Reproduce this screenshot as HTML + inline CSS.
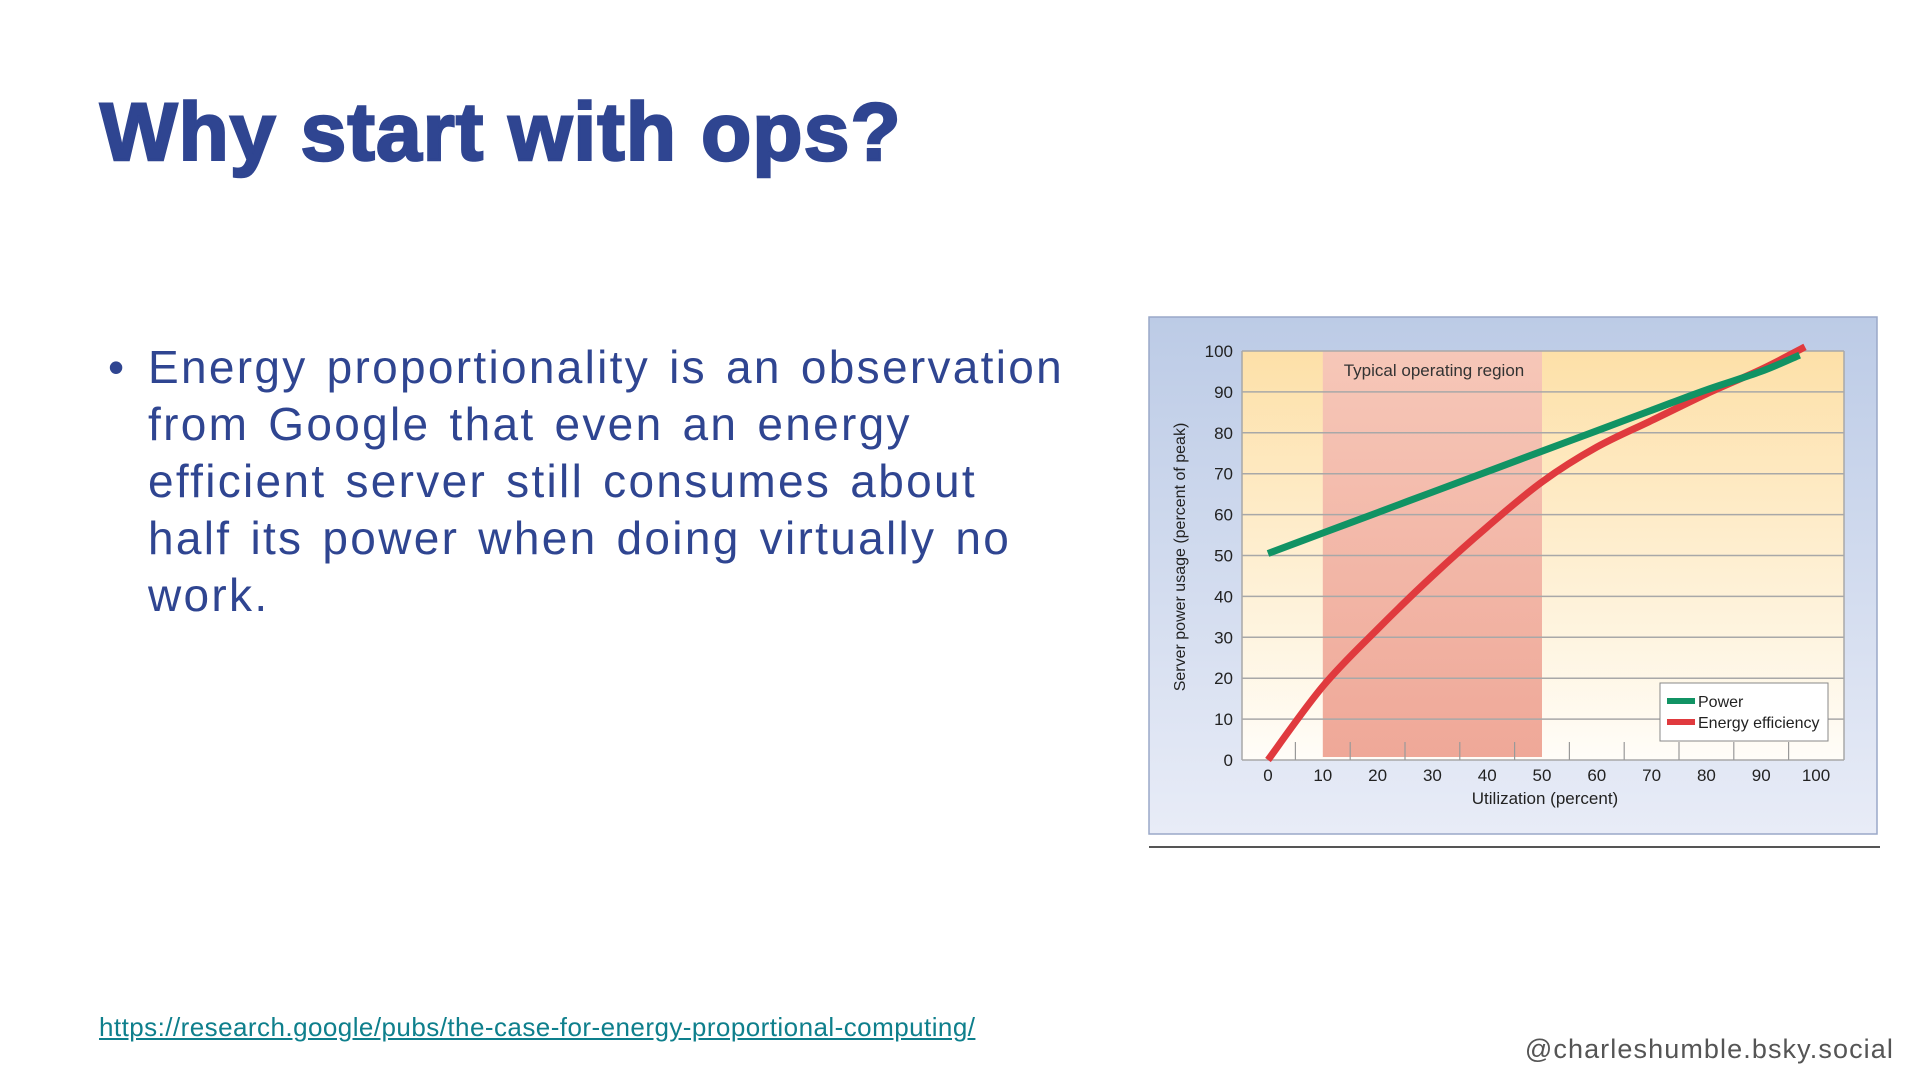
<!DOCTYPE html>
<html><head><meta charset="utf-8"><style>
html,body{margin:0;padding:0;background:#fff;width:1920px;height:1080px;overflow:hidden;position:relative;font-family:"Liberation Sans",sans-serif}
.t{position:absolute;white-space:nowrap}
#title{left:100px;top:86px;font-size:82px;font-weight:bold;color:#2f4591;letter-spacing:1.2px;-webkit-text-stroke:2.5px #2f4591}
#bullets{position:absolute;left:110px;top:339px;font-size:46px;color:#2f4591;line-height:57px;width:1100px;letter-spacing:2.3px;word-spacing:4px;white-space:nowrap}
#bullets li{list-style:none;padding-left:38px;position:relative}
#bullets li:before{content:"•";position:absolute;left:-2px;top:0}
#link{left:99px;top:1012px;font-size:26px;letter-spacing:0.45px;color:#0e7f8c;text-decoration:underline}
#handle{right:26px;top:1034px;font-size:27px;letter-spacing:1.1px;color:#555}
</style></head><body>
<div class="t" id="title">Why start with ops?</div>
<ul id="bullets" style="margin:0;padding:0"><li>Energy proportionality is an observation<br>from Google that even an energy<br>efficient server still consumes about<br>half its power when doing virtually no<br>work.</li></ul>
<a class="t" id="link">https://research.google/pubs/the-case-for-energy-proportional-computing/</a>
<div class="t" id="handle">@charleshumble.bsky.social</div>
<svg id="chart" width="1920" height="1080" style="position:absolute;left:0;top:0">
<defs>
<linearGradient id="pg" x1="0" y1="0" x2="0" y2="1"><stop offset="0" stop-color="#bccbe6"/><stop offset="1" stop-color="#e8ecf7"/></linearGradient>
<linearGradient id="ag" x1="0" y1="0" x2="0" y2="1"><stop offset="0" stop-color="#fde0a8"/><stop offset="1" stop-color="#fffdf8"/></linearGradient>
<linearGradient id="rg" x1="0" y1="0" x2="0" y2="1"><stop offset="0" stop-color="#f6c7b8"/><stop offset="1" stop-color="#efa898"/></linearGradient>
</defs>
</svg>
<script>
const xTicks=[0,10,20,30,40,50,60,70,80,90,100];
const yTicks=[0,10,20,30,40,50,60,70,80,90,100];
const regionRange=[10,50];
const powerX=[0,10,20,30,40,50,60,70,80,90,97];
const powerY=[50.5,55.5,60.5,65.5,70.5,75.5,80.5,85.5,90.5,95,99];
const effX=[0,10,20,30,40,50,60,70,80,90,98];
const effY=[0,18,32,45,57,68,76.5,83,89.5,95.5,101];
const NS="http://www.w3.org/2000/svg";
const svg=document.getElementById('chart');
const X=v=>1268+v*5.48, Y=v=>760-v*4.09;
const NF='Liberation Sans Narrow, Liberation Sans, sans-serif';
function mk(t,a,txt){const e=document.createElementNS(NS,t);for(const k in a)e.setAttribute(k,a[k]);if(txt!==undefined)e.textContent=txt;svg.appendChild(e);return e;}
let e;
e=mk('rect',{x:1149,y:317,width:728,height:517,fill:'url(#pg)',stroke:'#9aa8c8','stroke-width':1.5});


e=mk('line',{x1:1149,y1:847,x2:1880,y2:847,stroke:'#555','stroke-width':2});


e=mk('rect',{x:1242,y:Y(100),width:602,height:Y(0)-Y(100),fill:'url(#ag)'});


e=mk('rect',{x:X(regionRange[0]),y:Y(100),width:X(regionRange[1])-X(regionRange[0]),height:Y(0)-Y(100)-3,fill:'url(#rg)'});


yTicks.forEach(v=>{
 e=mk('line',{x1:1242,x2:1844,y1:Y(v),y2:Y(v),stroke:'#a8a8a8','stroke-width':1.5});
 
 
 e=mk('text',{x:1233,y:Y(v)+6,'text-anchor':'end','font-size':17,fill:'#222','font-family':NF},String(v));
 
 
});
mk('line',{x1:1242,x2:1242,y1:Y(100),y2:Y(0),stroke:'#a8a8a8','stroke-width':1.5});
mk('line',{x1:1844,x2:1844,y1:Y(100),y2:Y(0),stroke:'#a8a8a8','stroke-width':1.5});
xTicks.forEach(v=>{
 if(v<100){e=mk('line',{x1:X(v+5),x2:X(v+5),y1:Y(0)-18,y2:Y(0),stroke:'#999','stroke-width':1.2});
 
 }
 e=mk('text',{x:X(v),y:781,'text-anchor':'middle','font-size':17,fill:'#222','font-family':NF},String(v));
 
 
});
e=mk('text',{x:1545,y:804,'text-anchor':'middle','font-size':17,fill:'#222','font-family':NF},'Utilization (percent)');


e=mk('text',{x:0,y:0,'text-anchor':'middle','font-size':16,fill:'#222','font-family':NF,transform:'translate(1185,557) rotate(-90)'},'Server power usage (percent of peak)');


e=mk('text',{x:1434,y:376,'text-anchor':'middle','font-size':17,fill:'#333','font-family':NF},'Typical operating region');


function smooth(xs,ys){
 const p=xs.map((x,i)=>[X(x),Y(ys[i])]);
 let d='M'+p[0][0].toFixed(1)+','+p[0][1].toFixed(1);
 for(let i=0;i<p.length-1;i++){
  const p0=p[Math.max(0,i-1)],p1=p[i],p2=p[i+1],p3=p[Math.min(p.length-1,i+2)];
  const c1=[p1[0]+(p2[0]-p0[0])/6,p1[1]+(p2[1]-p0[1])/6];
  const c2=[p2[0]-(p3[0]-p1[0])/6,p2[1]-(p3[1]-p1[1])/6];
  d+='C'+c1.map(n=>n.toFixed(1)).join(',')+' '+c2.map(n=>n.toFixed(1)).join(',')+' '+p2.map(n=>n.toFixed(1)).join(',');
 }
 return d;
}
e=mk('path',{d:smooth(effX,effY),fill:'none',stroke:'#e03a3e','stroke-width':7,'stroke-linejoin':'round'});


e=mk('path',{d:smooth(powerX,powerY),fill:'none',stroke:'#119364','stroke-width':7,'stroke-linejoin':'round'});


e=mk('rect',{x:1660,y:683,width:168,height:58,fill:'#fff',stroke:'#888','stroke-width':1});


e=mk('rect',{x:1667,y:698,width:28,height:6,fill:'#119364'});


e=mk('text',{x:1698,y:707,'font-size':16,fill:'#222','font-family':NF},'Power');


e=mk('rect',{x:1667,y:719,width:28,height:6,fill:'#e03a3e'});


e=mk('text',{x:1698,y:728,'font-size':16,fill:'#222','font-family':NF},'Energy efficiency');


</script>
</body></html>
